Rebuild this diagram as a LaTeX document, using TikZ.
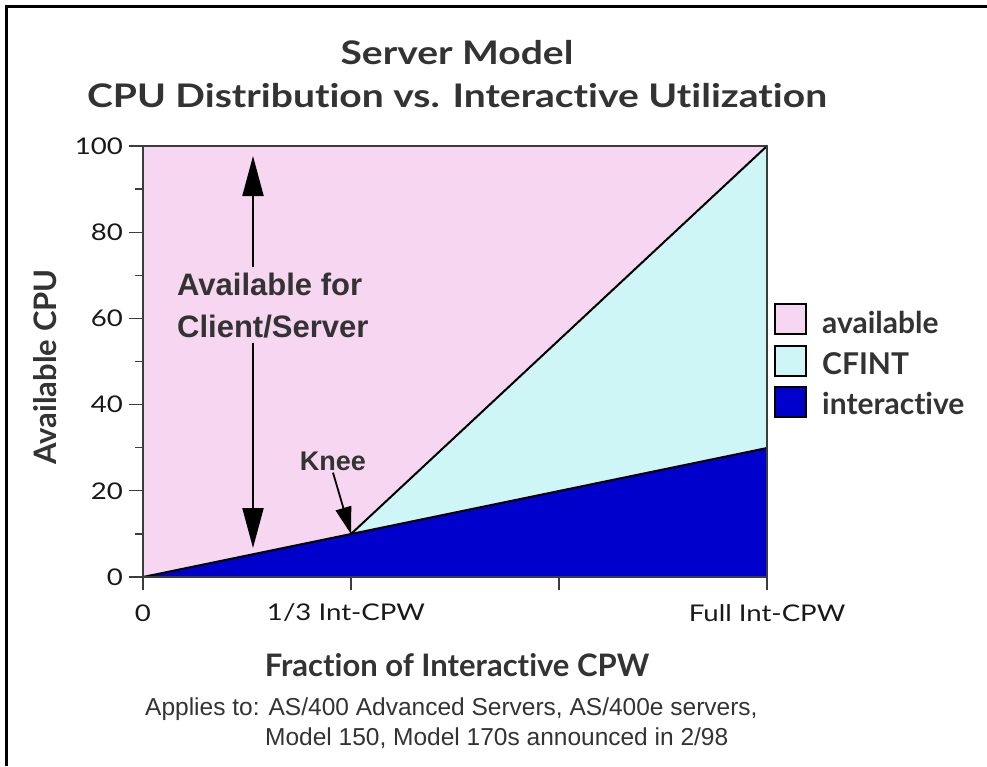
\documentclass[tikz,border=0pt]{standalone}
\usepackage{fontspec}
\setmainfont{Lato}[Ligatures=NoCommon]
\newfontfamily\gillwide{Lato}[FakeStretch=1.2,Ligatures=NoCommon]
\newfontfamily\helv{Liberation Sans}
\usetikzlibrary{arrows.meta}
\definecolor{avail}{RGB}{246,214,240}
\definecolor{cfint}{RGB}{206,246,246}
\definecolor{inter}{RGB}{0,0,204}
\definecolor{txt}{RGB}{51,51,51}
\definecolor{axisc}{RGB}{60,60,60}
\tikzset{
  ticklbl/.style={font=\gillwide\fontsize{23}{26}\selectfont, text=black!90, inner sep=0pt},
  axtitle/.style={font=\bfseries\fontsize{31}{34}\selectfont, text=txt, inner sep=0pt},
  legtxt/.style={font=\bfseries\fontsize{30}{34}\selectfont, text=txt, anchor=base west, inner sep=0pt},
  legbox/.style={draw=black, line width=2pt, minimum width=31pt, minimum height=30pt, inner sep=0pt},
  tickline/.style={draw=axisc, line width=1.3pt},
  divline/.style={draw=black, line width=2pt},
  bigarrow/.style={draw=black, line width=2pt, -{Triangle[length=40pt,width=21pt]}},
  kneearrow/.style={draw=black, line width=1.8pt, -{Triangle[length=27pt,width=16pt]}},
  cslbl/.style={font=\helv\bfseries\fontsize{31}{36}\selectfont, text=txt, anchor=base west, inner sep=5pt},
  note/.style={font=\helv\fontsize{24.5}{28}\selectfont, text=txt, anchor=base west, inner sep=0pt}
}
\begin{document}
\begin{tikzpicture}[x=1pt,y=-1pt]
\useasboundingbox (0,0) rectangle (987,766);
\fill[white] (0,0) rectangle (987,766);
% outer frame (left and top)
\draw[line width=3.5pt] (6.5,766) -- (6.5,6.5) -- (987,6.5);

% title
\node[font=\gillwide\bfseries\fontsize{32.5}{43}\selectfont, text=txt, align=center, inner sep=0pt] (title) at (457,74)
  {Server Model\\CPU Distribution vs. Interactive Utilization};

% plot corners
\coordinate (O) at (143,577);
\coordinate (K) at (351,534);
\coordinate (R30) at (767,448);
\coordinate (R100) at (767,146);
\coordinate (TL) at (143,146);
\coordinate (BR) at (767,577);

% regions
\fill[avail] (O) -- (TL) -- (R100) -- (K) -- cycle;
\fill[cfint] (K) -- (R100) -- (R30) -- cycle;
\fill[inter] (O) -- (K) -- (R30) -- (BR) -- cycle;
\draw[divline] (O) -- (K) -- (R30);
\draw[divline] (K) -- (R100);
\draw[line width=1.5pt, draw=axisc] (TL) -- (R100) -- (BR) -- (O) -- cycle;

% y ticks
\foreach \v in {0,20,...,100} {
  \draw[tickline] (129,{577-4.31*\v}) -- (143,{577-4.31*\v});
  \node[ticklbl, anchor=east] at (123,{577-4.31*\v}) {\v};
}
\foreach \v in {10,30,...,90} {
  \draw[tickline] (135,{577-4.31*\v}) -- (143,{577-4.31*\v});
}
% x ticks
\foreach \x in {143,351,559,767} {
  \draw[tickline] (\x,577) -- (\x,590);
}
\node[ticklbl] (x0) at (143,613) {0};
\node[ticklbl] (x1) at (346,613) {1/3 Int-CPW};
\node[ticklbl] (x3) at (767,613) {Full Int-CPW};

% axis titles
\node[axtitle, rotate=90] (ytitle) at (45,367) {Available CPU};
\node[axtitle] (xtitle) at (457,665) {Fraction of Interactive CPW};

% available annotation
\node[cslbl] (cs1) at (172,295) {Available for};
\node[cslbl] (cs2) at (172,337) {Client/Server};
\coordinate (atop) at (253,156);
\coordinate (abot) at (253,548);
\draw[bigarrow] (cs1.north -| atop) -- (atop);
\draw[bigarrow] (cs2.south -| abot) -- (abot);

% knee
\node[font=\helv\bfseries\fontsize{27}{30}\selectfont, text=txt, inner sep=2pt] (knee) at (333,461) {Knee};
\draw[kneearrow] (knee.south) -- (K);

% legend
\node[legbox, fill=avail] (lb1) at (790.5,319) {};
\node[legbox, fill=cfint] (lb2) at (790.5,361) {};
\node[legbox, fill=inter] (lb3) at (790.5,402) {};
\node[legtxt] (lt1) at (822,333) {available};
\node[legtxt] (lt2) at (822,374) {CFINT};
\node[legtxt] (lt3) at (822,414) {interactive};

% note
\node[note] (n1) at (145,715) {Applies to: AS/400 Advanced Servers, AS/400e servers,};
\node[note] (n2) at (265,745) {Model 150, Model 170s announced in 2/98};
\end{tikzpicture}
\end{document}
